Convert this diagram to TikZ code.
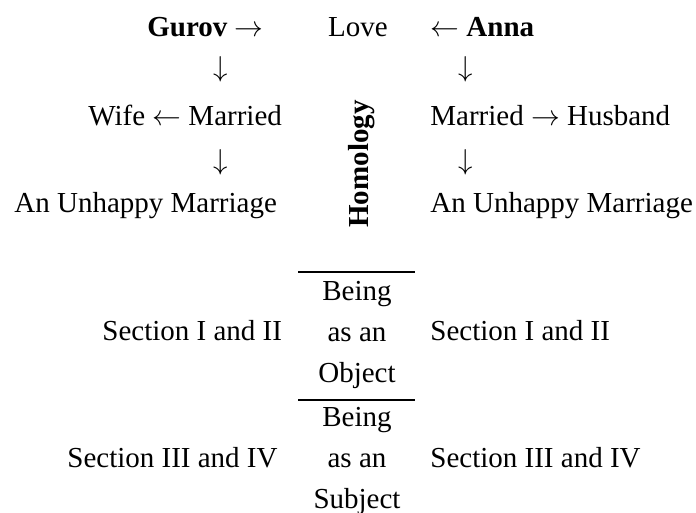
\documentclass[tikz,border=0pt]{standalone}
\usepackage{fontspec}
\setmainfont{Liberation Serif}

\begin{document}
\begin{tikzpicture}[x=0.5pt,y=-0.5pt,font=\fontsize{14.5}{20.5}\selectfont,
		word/.style={inner sep=0pt,anchor=base west},
		cell/.style={inner sep=0pt,anchor=base,align=center},
		rule/.style={line width=0.7pt}]
			\useasboundingbox (0,0) rectangle (696,513);
			\node[word] (gurov) at (147,37) {\textbf{Gurov} $\rightarrow$};
			\node[inner sep=0pt,anchor=base] (love) at (358,37) {Love};
			\node[word] (anna) at (430,37) {$\leftarrow$ \textbf{Anna}};
			\node[word] (wife) at (88,126) {Wife $\leftarrow$ Married};
			\node[word] (husband) at (430,126) {Married $\rightarrow$ Husband};
			\node[word] (unhappyL) at (14,213) {An Unhappy Marriage};
			\node[word] (unhappyR) at (430,213) {An Unhappy Marriage};
			\foreach \Nom/\X/\Y in {downL1/221/69,downL2/221/162,downR1/466/69,downR2/466/162}
				\node[inner sep=0pt] (\Nom) at (\X,\Y) {$\downarrow$};
			\node[inner sep=0pt,rotate=90,font=\fontsize{14.5}{20.5}\selectfont\bfseries] (homology) at (362,164) {Homology};
			\coordinate (r1a) at (298,272);
			\coordinate (r1b) at (415,272);
			\coordinate (r2a) at (298,400);
			\coordinate (r2b) at (415,400);
			\draw[rule] (r1a) -- (r1b);
			\draw[rule] (r2a) -- (r2b);
			\node[cell] (object) at (357,382) {Being\\as an\\Object};
			\node[cell] (subject) at (357,508) {Being\\as an\\Subject};
			\node[word] (secAL) at (102,341) {Section I and II};
			\node[word] (secAR) at (430,341) {Section I and II};
			\node[word] (secBL) at (67,467) {Section III and IV};
			\node[word] (secBR) at (430,467) {Section III and IV};
		\end{tikzpicture}
\end{document}
